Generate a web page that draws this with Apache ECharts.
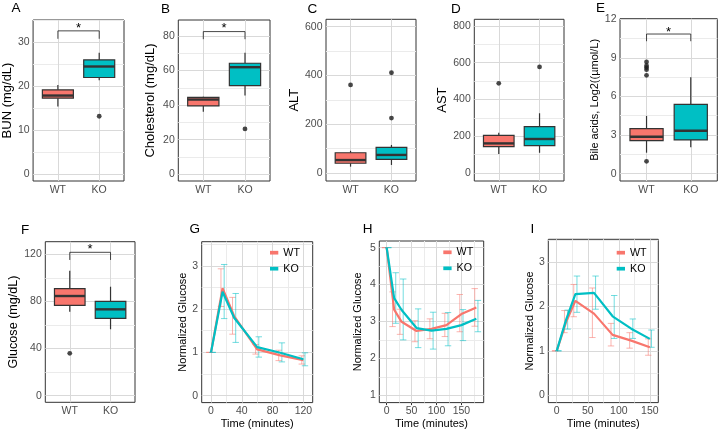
<!DOCTYPE html>
<html><head><meta charset="utf-8">
<script src="https://cdn.jsdelivr.net/npm/echarts@6/dist/echarts.min.js"></script>
<style>html,body{margin:0;padding:0;background:#fff}#c{width:720px;height:430px}</style>
</head><body><div id="c"></div>
<script>
// ---------- data ----------
const cats = ['WT', 'KO'];
// box stats: [lower whisker, Q1, median, Q3, upper whisker]
const bunStats = [[15.4, 17.3, 17.9, 19.2, 20.3], [21.4, 22.0, 24.5, 26.0, 27.6]];
const bunOutliers = [['KO', 13.2]];
const bunTicks = [0, 10, 20, 30];
const bunSig = [30.8, 32.6, 33.8];

const cholStats = [[36.2, 39.5, 43.2, 44.5, 44.8], [45.5, 51.2, 61.9, 64.2, 70.3]];
const cholOutliers = [['KO', 26.2]];
const cholTicks = [0, 20, 40, 60, 80];
const cholSig = [78.1, 82.5, 85.9];

const altStats = [[26, 40, 53, 83, 91], [33, 56, 74, 105, 115]];
const altOutliers = [['WT', 361], ['KO', 225], ['KO', 411]];
const altTicks = [0, 200, 400, 600];

const astStats = [[103, 143, 161, 205, 219], [110, 149, 185, 252, 325]];
const astOutliers = [['WT', 488], ['KO', 577]];
const astTicks = [0, 200, 400, 600, 800];

const bileStats = [[1.63, 2.56, 2.87, 3.5, 4.48], [2.05, 2.62, 3.34, 5.39, 7.49]];
const bileOutliers = [['WT', 8.68], ['WT', 8.39], ['WT', 8.24], ['WT', 8.08], ['WT', 7.64], ['WT', 0.96]];
const bileTicks = [0, 3, 6, 9, 12];
const bileSig = [10.29, 10.85, 11.22];

const glcStats = [[71.3, 76.7, 84.6, 90.8, 106.1], [56.4, 65.7, 73.3, 80.1, 92.5]];
const glcOutliers = [['WT', 36]];
const glcTicks = [0, 40, 80, 120];
const glcSig = [115.2, 121.7, 126.5];

const gttTime = [0, 15, 30, 60, 90, 120];
const gttWT = [1.0, 2.48, 1.84, 1.07, 0.93, 0.82];
const gttWTlo = [1.0, 2.06, 1.42, 0.96, 0.81, 0.73];
const gttWThi = [1.0, 2.93, 2.27, 1.18, 1.05, 0.92];
const gttKO = [1.0, 2.40, 1.80, 1.12, 0.99, 0.84];
const gttKOlo = [1.0, 1.78, 1.23, 0.89, 0.78, 0.69];
const gttKOhi = [1.0, 3.03, 2.36, 1.36, 1.22, 0.99];
const gttXTicks = [0, 40, 80, 120];
const gttYTicks = [0, 1, 2, 3];

const ittTime = [0, 15, 30, 60, 90, 120, 150, 180];
const ittWT = [5.0, 3.32, 2.99, 2.74, 2.80, 2.90, 3.20, 3.38];
const ittWTlo = [5.0, 2.86, 2.65, 2.45, 2.53, 2.59, 2.72, 2.87];
const ittWThi = [5.0, 3.80, 3.33, 3.02, 3.07, 3.22, 3.73, 3.89];
const ittKO = [5.0, 3.63, 3.31, 2.82, 2.75, 2.80, 2.90, 3.07];
const ittKOlo = [5.0, 2.95, 2.50, 2.29, 2.25, 2.34, 2.48, 2.72];
const ittKOhi = [5.0, 4.32, 4.15, 3.34, 3.25, 3.24, 3.32, 3.57];
const ittXTicks = [0, 50, 100, 150];
const ittYTicks = [1, 2, 3, 4, 5];

const ptTime = [0, 15, 30, 60, 90, 120, 150];
const ptWT = [1.0, 1.65, 2.13, 1.84, 1.36, 1.23, 1.08];
const ptWTlo = [1.0, 1.41, 1.77, 1.30, 1.11, 1.06, 0.90];
const ptWThi = [1.0, 1.91, 2.50, 2.42, 1.62, 1.41, 1.27];
const ptKO = [1.0, 1.70, 2.28, 2.31, 1.78, 1.50, 1.27];
const ptKOlo = [1.0, 1.49, 1.87, 1.94, 1.28, 1.28, 1.08];
const ptKOhi = [1.0, 1.92, 2.69, 2.69, 2.25, 1.72, 1.47];
const ptXTicks = [0, 50, 100, 150];
const ptYTicks = [0, 1, 2, 3];

// ---------- styling / layout ----------
const FONT = '"Liberation Sans", Arial, Helvetica, sans-serif';
const RED = '#F8766D', TEAL = '#00BFC4';
const RED_A = 'rgba(248,118,109,0.55)', TEAL_A = 'rgba(0,191,196,0.55)';
const BOX_FILL = [RED, TEAL];
const TICK_FS = 10.5;
const GRID_MAJOR = '#d9d9d9', GRID_MINOR = '#ebebeb';

const boxPanels = [
  { letter: 'A', stats: bunStats, out: bunOutliers, ticks: bunTicks, sig: bunSig, name: 'BUN (mg/dL)',
    L: { left: 31.7, top: 20, width: 92.3, height: 161 }, y: [-1.52, 35.07], gap: 16, fs: 13, lt: [11.5, 1.5] },
  { letter: 'B', stats: cholStats, out: cholOutliers, ticks: cholTicks, sig: cholSig, name: 'Cholesterol (mg/dL)',
    L: { left: 178.3, top: 20, width: 91.7, height: 161 }, y: [-3.9, 89.2], gap: 21, fs: 13, lt: [161, 2.5] },
  { letter: 'C', stats: altStats, out: altOutliers, ticks: altTicks, sig: null, name: 'ALT',
    L: { left: 326, top: 19.3, width: 90, height: 161.7 }, y: [-32.8, 630], gap: 20.5, fs: 13, lt: [307.5, 2.5] },
  { letter: 'D', stats: astStats, out: astOutliers, ticks: astTicks, sig: null, name: 'AST',
    L: { left: 474.3, top: 19.3, width: 89.7, height: 161.7 }, y: [-43.5, 836], gap: 21.5, fs: 13, lt: [451, 2.5] },
  { letter: 'E', stats: bileStats, out: bileOutliers, ticks: bileTicks, sig: bileSig, name: 'Bile acids, Log2((\u00b5mol/L)',
    L: { left: 620, top: 18.7, width: 97.3, height: 162.3 }, y: [-0.57, 12.04], gap: 16, fs: 11, lt: [596, 1] },
  { letter: 'F', stats: glcStats, out: glcOutliers, ticks: glcTicks, sig: glcSig, name: 'Glucose (mg/dL)',
    L: { left: 45.3, top: 241.7, width: 89.7, height: 160.6 }, y: [-5.6, 130.7], gap: 21.5, fs: 12.6, lt: [21, 223.5] }
];

const linePanels = [
  { letter: 'G', time: gttTime, wt: gttWT, wtlo: gttWTlo, wthi: gttWThi, ko: gttKO, kolo: gttKOlo, kohi: gttKOhi,
    xt: gttXTicks, yt: gttYTicks, L: { left: 201.7, top: 241.7, width: 111, height: 161 },
    x: [-12.1, 132.1], y: [-0.16, 3.556], gap: 13.5, lt: [189.5, 222.5], leg: [270, 247.2] },
  { letter: 'H', time: ittTime, wt: ittWT, wtlo: ittWTlo, wthi: ittWThi, ko: ittKO, kolo: ittKOlo, kohi: ittKOhi,
    xt: ittXTicks, yt: ittYTicks, L: { left: 379.3, top: 241, width: 104.4, height: 161.7 },
    x: [-14.8, 194.8], y: [0.8, 5.18], gap: 15.5, lt: [362.8, 222.5], leg: [443.3, 246.8] },
  { letter: 'I', time: ptTime, wt: ptWT, wtlo: ptWTlo, wthi: ptWThi, ko: ptKO, kolo: ptKOlo, kohi: ptKOhi,
    xt: ptXTicks, yt: ptYTicks, L: { left: 548.3, top: 239.3, width: 110, height: 163.4 },
    x: [-13.6, 163.6], y: [-0.17, 3.52], gap: 11, lt: [530.5, 222.5], leg: [616.7, 247.2] }
];

// ---------- builders ----------
const grids = [], xAxes = [], yAxes = [], series = [], titles = [], legends = [];

function minorOf(ticks, lo, hi) {
  const res = [];
  if (ticks.length < 2) return res;
  const step = ticks[1] - ticks[0];
  const cand = [ticks[0] - step / 2];
  for (let i = 0; i < ticks.length; i++) cand.push(ticks[i] + step / 2);
  cand.forEach(v => { if (v > lo && v < hi) res.push(v); });
  return res;
}

function gridSeries(xi, yi, xMaj, xMin, yMaj, yMin, anchor) {
  const d = [];
  const st = (major) => ({ color: major ? GRID_MAJOR : GRID_MINOR, width: 1, type: 'solid', opacity: 1 });
  xMin.forEach(v => d.push({ xAxis: v, lineStyle: st(false) }));
  yMin.forEach(v => d.push({ yAxis: v, lineStyle: st(false) }));
  xMaj.forEach(v => d.push({ xAxis: v, lineStyle: st(true) }));
  yMaj.forEach(v => d.push({ yAxis: v, lineStyle: st(true) }));
  return { type: 'scatter', xAxisIndex: xi, yAxisIndex: yi, silent: true, z: 1, symbolSize: 0,
    itemStyle: { opacity: 0 }, data: [anchor],
    markLine: { silent: true, z: 1, symbol: ['none', 'none'], precision: 6, animation: false,
      label: { show: false }, emphasis: { disabled: true }, data: d } };
}

function addGrid(L) {
  grids.push({ left: L.left, top: L.top, width: L.width, height: L.height, show: true,
    backgroundColor: 'transparent', borderColor: '#333', borderWidth: 1, containLabel: false });
  return grids.length - 1;
}

function axisCommon(ticks) {
  return {
    splitLine: { show: false }, axisLine: { show: false },
    axisTick: { show: true, length: 2.5, customValues: ticks, lineStyle: { color: '#333', width: 1 } }
  };
}

function boxRender(params, api) {
  const x = api.value(0);
  const pLo = api.coord([x, api.value(1)]);
  const pQ1 = api.coord([x, api.value(2)]);
  const pMed = api.coord([x, api.value(3)]);
  const pQ3 = api.coord([x, api.value(4)]);
  const pHi = api.coord([x, api.value(5)]);
  const w = api.size([0.75, 0])[0];
  const cx = pMed[0];
  const fill = BOX_FILL[params.dataIndex % 2];
  return { type: 'group', children: [
    { type: 'line', shape: { x1: cx, y1: pHi[1], x2: cx, y2: pQ3[1] }, style: { stroke: '#333', lineWidth: 1.2 } },
    { type: 'line', shape: { x1: cx, y1: pQ1[1], x2: cx, y2: pLo[1] }, style: { stroke: '#333', lineWidth: 1.2 } },
    { type: 'rect', shape: { x: cx - w / 2, y: pQ3[1], width: w, height: pQ1[1] - pQ3[1] },
      style: { fill: fill, stroke: '#333', lineWidth: 1.2 } },
    { type: 'line', shape: { x1: cx - w / 2, y1: pMed[1], x2: cx + w / 2, y2: pMed[1] }, style: { stroke: '#333', lineWidth: 2.4 } }
  ] };
}

function starRender(params, api) {
  const p = api.coord([api.value(0), api.value(1)]);
  return { type: 'text', x: p[0], y: p[1] + 3,
    style: { text: '*', fill: '#000', fontSize: 13, fontFamily: FONT,
      align: 'center', verticalAlign: 'middle', textAlign: 'center', textVerticalAlign: 'middle' } };
}

function errRender(dodge, color) {
  return function (params, api) {
    const t = api.value(0);
    const p1 = api.coord([t, api.value(1)]);
    const p2 = api.coord([t, api.value(2)]);
    const x = p1[0] + dodge, cw = 3.2;
    const st = { stroke: color, lineWidth: 1 };
    return { type: 'group', children: [
      { type: 'line', shape: { x1: x, y1: p1[1], x2: x, y2: p2[1] }, style: st },
      { type: 'line', shape: { x1: x - cw, y1: p1[1], x2: x + cw, y2: p1[1] }, style: st },
      { type: 'line', shape: { x1: x - cw, y1: p2[1], x2: x + cw, y2: p2[1] }, style: st }
    ] };
  };
}

function addTitle(letter, lt) {
  titles.push({ text: letter, left: lt[0], top: lt[1], padding: 0,
    textStyle: { fontSize: 13.5, fontWeight: 'normal', color: '#000', fontFamily: FONT } });
}

boxPanels.forEach(P => {
  const g = addGrid(P.L);
  const xi = xAxes.length, yi = yAxes.length;
  const catIdx = cats.map((c, i) => i);
  xAxes.push(Object.assign({ gridIndex: g, type: 'value', min: -0.6, max: 1.6 }, axisCommon(catIdx), {
    axisLabel: { customValues: catIdx, formatter: v => cats[Math.round(v)], margin: 3.5,
      color: '#4d4d4d', fontSize: TICK_FS, fontFamily: FONT }
  }));
  yAxes.push(Object.assign({ gridIndex: g, type: 'value', min: P.y[0], max: P.y[1] }, axisCommon(P.ticks), {
    axisLabel: { customValues: P.ticks, margin: 3.5, color: '#4d4d4d', fontSize: TICK_FS, fontFamily: FONT },
    name: P.name, nameLocation: 'middle', nameGap: P.gap,
    nameTextStyle: { fontSize: P.fs, color: '#000', fontFamily: FONT }
  }));
  series.push(gridSeries(xi, yi, catIdx, [], P.ticks, minorOf(P.ticks, P.y[0], P.y[1]), [0.5, P.ticks[1]]));
  series.push({ type: 'custom', name: P.letter + '_box', xAxisIndex: xi, yAxisIndex: yi, silent: true, z: 3,
    encode: { x: 0, y: [1, 2, 3, 4, 5] },
    data: P.stats.map((s, i) => [i].concat(s)), renderItem: boxRender });
  series.push({ type: 'scatter', name: P.letter + '_out', xAxisIndex: xi, yAxisIndex: yi, silent: true, z: 4,
    symbolSize: 4.8, itemStyle: { color: '#1a1a1a' },
    data: P.out.map(o => [cats.indexOf(o[0]), o[1]]) });
  if (P.sig) {
    series.push({ type: 'line', name: P.letter + '_sig', xAxisIndex: xi, yAxisIndex: yi, silent: true, z: 4,
      symbol: 'none', lineStyle: { color: '#1a1a1a', width: 0.8 },
      data: [[0, P.sig[0]], [0, P.sig[1]], [1, P.sig[1]], [1, P.sig[0]]] });
    series.push({ type: 'custom', name: P.letter + '_star', xAxisIndex: xi, yAxisIndex: yi, silent: true, z: 4,
      data: [[0.5, P.sig[2]]], renderItem: starRender });
  }
  addTitle(P.letter, P.lt);
});

linePanels.forEach(P => {
  const g = addGrid(P.L);
  const xi = xAxes.length, yi = yAxes.length;
  xAxes.push(Object.assign({ gridIndex: g, type: 'value', min: P.x[0], max: P.x[1] }, axisCommon(P.xt), {
    axisLabel: { customValues: P.xt, margin: 3.5, color: '#4d4d4d', fontSize: TICK_FS, fontFamily: FONT },
    name: 'Time (minutes)', nameLocation: 'middle', nameGap: 13,
    nameTextStyle: { fontSize: 11, color: '#000', fontFamily: FONT }
  }));
  yAxes.push(Object.assign({ gridIndex: g, type: 'value', min: P.y[0], max: P.y[1] }, axisCommon(P.yt), {
    axisLabel: { customValues: P.yt, margin: 3.5, color: '#4d4d4d', fontSize: TICK_FS, fontFamily: FONT },
    name: 'Normalized Glucose', nameLocation: 'middle', nameGap: P.gap,
    nameTextStyle: { fontSize: 11, color: '#000', fontFamily: FONT }
  }));
  series.push(gridSeries(xi, yi, P.xt, minorOf(P.xt, P.x[0], P.x[1]), P.yt, minorOf(P.yt, P.y[0], P.y[1]),
    [P.xt[1], P.yt[1]]));
  series.push({ type: 'custom', name: 'WT_err_' + P.letter, xAxisIndex: xi, yAxisIndex: yi, silent: true, z: 2,
    encode: { x: 0, y: [1, 2] },
    data: P.time.map((t, i) => [t, P.wtlo[i], P.wthi[i]]), renderItem: errRender(-1.6, RED_A) });
  series.push({ type: 'custom', name: 'KO_err_' + P.letter, xAxisIndex: xi, yAxisIndex: yi, silent: true, z: 2,
    encode: { x: 0, y: [1, 2] },
    data: P.time.map((t, i) => [t, P.kolo[i], P.kohi[i]]), renderItem: errRender(1.6, TEAL_A) });
  series.push({ type: 'line', name: 'WT', xAxisIndex: xi, yAxisIndex: yi, z: 3, showSymbol: false, symbol: 'none',
    color: RED, itemStyle: { color: RED }, lineStyle: { color: RED, width: 2.2 },
    data: P.time.map((t, i) => [t, P.wt[i]]) });
  series.push({ type: 'line', name: 'KO', xAxisIndex: xi, yAxisIndex: yi, z: 3, showSymbol: false, symbol: 'none',
    color: TEAL, itemStyle: { color: TEAL }, lineStyle: { color: TEAL, width: 2.2 },
    data: P.time.map((t, i) => [t, P.ko[i]]) });
  legends.push({ left: P.leg[0], top: P.leg[1], orient: 'vertical', padding: 0, itemGap: 5,
    itemWidth: 8.3, itemHeight: 3.7, icon: 'rect', selectedMode: false, data: ['WT', 'KO'],
    textStyle: { fontSize: 10.7, color: '#000', fontFamily: FONT } });
  addTitle(P.letter, P.lt);
});

const chart = echarts.init(document.getElementById('c'), null, { renderer: 'canvas', width: 720, height: 430 });
chart.setOption({
  animation: false,
  backgroundColor: '#fff',
  title: titles,
  legend: legends,
  grid: grids,
  xAxis: xAxes,
  yAxis: yAxes,
  series: series
});
</script></body></html>
